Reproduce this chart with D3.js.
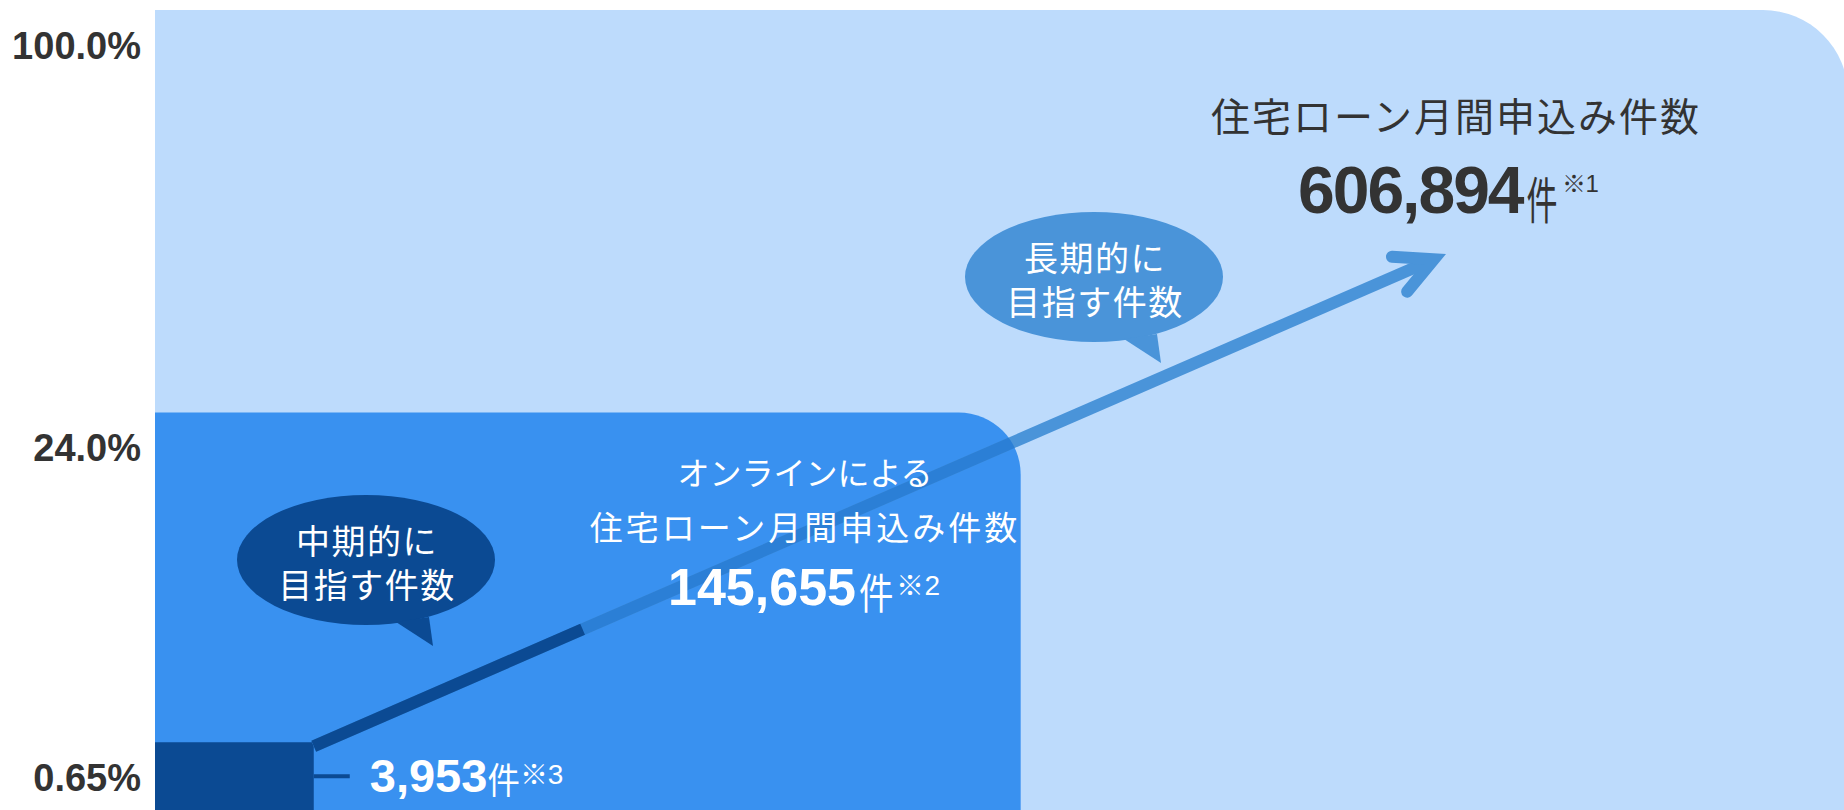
<!DOCTYPE html>
<html lang="ja">
<head>
<meta charset="utf-8">
<script src="https://cdn.jsdelivr.net/npm/d3@7"></script>
<style>
  html, body { margin: 0; padding: 0; background: #ffffff; }
  svg { display: block; }
</style>
</head>
<body>
<svg id="chart" width="1844" height="810"></svg>
<script>
// ---- data ----
const shareLabels = ["100.0%", "24.0%", "0.65%"];
const shares = [1.0, 0.24, 0.0065];
const counts = [606894, 145655, 3953];
const noteMarks = ["※1", "※2", "※3"];
const captionLines = [["住宅ローン月間申込み件数"], ["オンラインによる", "住宅ローン月間申込み件数"], []];
const unitLabel = "件";
const bubbleLines = [["中期的に", "目指す件数"], ["長期的に", "目指す件数"]];

// ---- layout ----
const svg = d3.select("#chart");
const plot = { left: 155, top: 10, bottom: 810, width: 1693 };
const fills = ["#BDDBFC", "#3991F0", "#0B4A93"];
const radii = [85, 62, 0];
const navy = "#0B4A93";
const lineLight = "#4A94D9";
const lineMid = "#2B7FD6";
const dark = "#333333";
const jp = "'Noto Sans CJK JP', 'Noto Sans', sans-serif";
const latin = "'Liberation Sans', Arial, sans-serif";

// nested blocks: side lengths grow with the root of the share
const x = d3.scalePow().exponent(0.47).domain([0, 1]).range([0, plot.width]);
const y = d3.scalePow().exponent(0.49).domain([0, 1]).range([plot.bottom, plot.top]);

function blockPath(share, r) {
  const x0 = plot.left, x1 = plot.left + x(share), y0 = y(share), y1 = plot.bottom;
  const p = d3.path();
  p.moveTo(x0, y1);
  p.lineTo(x0, y0);
  p.lineTo(x1 - r, y0);
  if (r > 0) p.arcTo(x1, y0, x1, y0 + r, r);
  p.lineTo(x1, y1);
  p.closePath();
  return p.toString();
}

svg.append("g").selectAll("path")
  .data(shares)
  .join("path")
  .attr("d", (d, i) => blockPath(d, radii[i]))
  .attr("fill", (d, i) => fills[i]);

svg.append("clipPath").attr("id", "mid-block")
  .append("path").attr("d", blockPath(shares[1], radii[1]));

// ---- growth arrow ----
const start = [plot.left + x(shares[2]), y(shares[2]) + 4];
const tip = [1446, 254];
const len = Math.hypot(tip[0] - start[0], tip[1] - start[1]);
const u = [(tip[0] - start[0]) / len, (tip[1] - start[1]) / len];
const headAngle = 27 * Math.PI / 180;
const stroke = 12;
const miter = (stroke / 2) / Math.sin(headAngle);
const vertex = [tip[0] - u[0] * miter, tip[1] - u[1] * miter];
const back = Math.atan2(-u[1], -u[0]);
const armLen = 42;
const arm = a => [vertex[0] + armLen * Math.cos(back + a), vertex[1] + armLen * Math.sin(back + a)];

const line = d3.line();
const shaft = [start, vertex];
const arrow = svg.append("g").attr("fill", "none");
arrow.append("path").attr("d", line(shaft))
  .attr("stroke", lineLight).attr("stroke-width", stroke);
arrow.append("path").attr("d", line(shaft))
  .attr("stroke", lineMid).attr("stroke-width", stroke)
  .attr("clip-path", "url(#mid-block)");
const midPoint = [start[0] + (vertex[0] - start[0]) * shares[1], start[1] + (vertex[1] - start[1]) * shares[1]];
arrow.append("path").attr("d", line([start, midPoint]))
  .attr("stroke", navy).attr("stroke-width", stroke);
arrow.append("path").attr("d", line([arm(headAngle), vertex, arm(-headAngle)]))
  .attr("stroke", lineLight).attr("stroke-width", stroke)
  .attr("stroke-linecap", "round").attr("stroke-linejoin", "miter").attr("stroke-miterlimit", 10);

// ---- share labels on the left ----
svg.append("g").selectAll("text")
  .data(shares)
  .join("text")
  .attr("x", 141)
  .attr("y", d => y(d) + 49)
  .attr("text-anchor", "end")
  .attr("font-family", latin)
  .attr("font-weight", "bold")
  .attr("font-size", 38)
  .attr("fill", dark)
  .text((d, i) => shareLabels[i]);

// ---- speech bubbles ----
const bubbles = [
  { cx: 366, cy: 560, fill: navy, lines: bubbleLines[0] },
  { cx: 1094, cy: 277, fill: lineLight, lines: bubbleLines[1] }
];
const tail = [[30, 62], [63, 57], [67, 86]];
const bg = svg.append("g");
bubbles.forEach(b => {
  bg.append("ellipse").attr("cx", b.cx).attr("cy", b.cy).attr("rx", 129).attr("ry", 65).attr("fill", b.fill);
  bg.append("path")
    .attr("d", line(tail.map(p => [b.cx + p[0], b.cy + p[1]])) + "Z")
    .attr("fill", b.fill);
  b.lines.forEach((t, k) => {
    bg.append("text")
      .attr("x", b.cx + 1).attr("y", b.cy - 6 + k * 44)
      .attr("text-anchor", "middle")
      .attr("font-family", jp).attr("font-size", 34)
      .attr("letter-spacing", 1.5)
      .attr("fill", "#ffffff")
      .text(t);
  });
});

// ---- captions ----
const captions = [
  { cx: 1456, base: [131], size: [39], spacing: [2], color: dark },
  { cx: 805, base: [485, 540], size: [32, 33], spacing: [0, 3], color: "#ffffff" }
];
captions.forEach((c, i) => {
  captionLines[i].forEach((t, k) => {
    svg.append("text")
      .attr("x", c.cx).attr("y", c.base[k])
      .attr("text-anchor", "middle")
      .attr("font-family", jp).attr("font-size", c.size[k])
      .attr("letter-spacing", c.spacing[k])
      .attr("fill", c.color)
      .text(t);
  });
});

// ---- value labels: number + unit + note mark ----
const fmt = d3.format(",");
const smallRight = plot.left + x(shares[2]);
const smallTop = y(shares[2]);
const valueStyles = [
  { x: 1298, base: 213, size: 66, ls: -2, color: dark,
    unit: { size: 50, sx: 0.62, dy: 6, gap: 4 }, note: { size: 24, dy: -21, gap: 4 } },
  { x: 668, base: 605, size: 52, ls: 0, color: "#ffffff",
    unit: { size: 42, sx: 0.82, dy: 4, gap: 3 }, note: { size: 28, dy: -10, gap: 3 } },
  { x: smallRight + 56, base: smallTop + 50, size: 47, ls: 0, color: "#ffffff",
    unit: { size: 36, sx: 0.9, dy: 2, gap: 0 }, note: { size: 28, dy: -8, gap: 0 } }
];
const vg = svg.append("g");
counts.forEach((v, i) => {
  const s = valueStyles[i];
  const num = vg.append("text")
    .attr("x", s.x).attr("y", s.base)
    .attr("font-family", latin).attr("font-weight", "bold")
    .attr("font-size", s.size).attr("letter-spacing", s.ls)
    .attr("fill", s.color)
    .text(fmt(v));
  const nx = s.x + num.node().getComputedTextLength() + s.unit.gap;
  const unit = vg.append("text")
    .attr("transform", `translate(${nx},${s.base + s.unit.dy}) scale(${s.unit.sx},1)`)
    .attr("font-family", jp).attr("font-size", s.unit.size)
    .attr("fill", s.color)
    .text(unitLabel);
  const ux = nx + unit.node().getComputedTextLength() * s.unit.sx + s.note.gap;
  vg.append("text")
    .attr("x", ux).attr("y", s.base + s.note.dy)
    .attr("font-family", latin).attr("font-size", s.note.size)
    .attr("fill", s.color)
    .text(noteMarks[i]);
});

// leader from the smallest block to its value
svg.append("line")
  .attr("x1", smallRight).attr("x2", smallRight + 36)
  .attr("y1", smallTop + 34).attr("y2", smallTop + 34)
  .attr("stroke", navy).attr("stroke-width", 4);
</script>
</body>
</html>
